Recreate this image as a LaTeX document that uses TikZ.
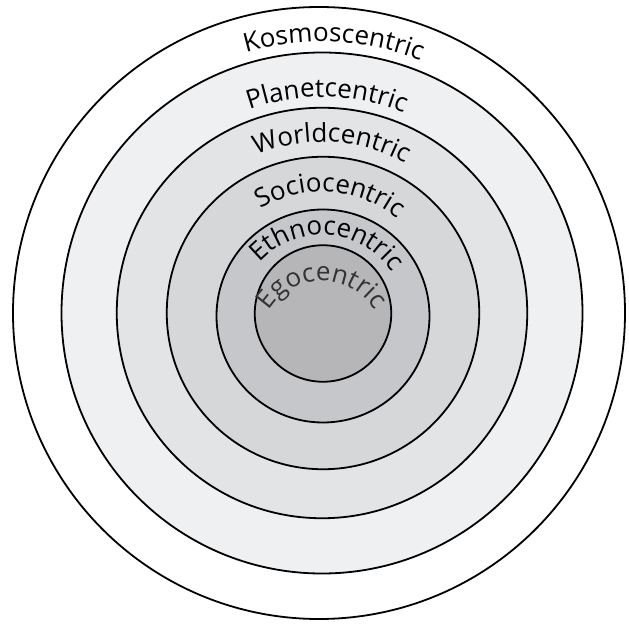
\documentclass[tikz,border=0pt]{standalone}
\usepackage{fontspec}
\newfontfamily\labelfont{Open Sans}
\usetikzlibrary{decorations.text}
\definecolor{ringplanet}{HTML}{EFF0F2}
\definecolor{ringworld}{HTML}{E3E4E6}
\definecolor{ringsocio}{HTML}{D6D7D9}
\definecolor{ringethno}{HTML}{C6C7CA}
\definecolor{ringego}{HTML}{B6B6B9}
\definecolor{egotext}{HTML}{333333}
\def\lblfont{\labelfont\fontsize{26}{31}\selectfont}
\tikzset{
  ring/.style={circle, draw=black, line width=1.8pt, inner sep=0pt, outer sep=0pt},
  labelarc/.style={decorate, decoration={text along path, text align=center, text color=#1}},
  labelarc/.default=black
}
\begin{document}
\begin{tikzpicture}[x=1pt,y=1pt]
\useasboundingbox (0,0) rectangle (629,627);
\fill[white] (0,0) rectangle (629,627);
\coordinate (C) at (322,314);
\node[ring, fill=white, minimum size=612pt] (kosmos) at (319,314) {};
\node[ring, fill=ringplanet, minimum size=521pt] (planet) at (322,314) {};
\node[ring, fill=ringworld, minimum size=410.5pt] (world) at (322,314) {};
\node[ring, fill=ringsocio, minimum size=312.5pt] (socio) at (323,314) {};
\node[ring, fill=ringethno, minimum size=213pt] (ethno) at (323,311) {};
\node[ring, fill=ringego, minimum size=136.5pt] (ego) at (323,313.5) {};
\coordinate (Cethno) at (322,307);
\coordinate (Cego) at (322,284);
\path[labelarc, decoration={text={|\lblfont|Kosmoscentric}}]
  ([shift={(150:271)}]C) arc[start angle=150, end angle=25, radius=271];
\path[labelarc, decoration={text={|\lblfont|Planetcentric}}]
  ([shift={(150:216)}]C) arc[start angle=150, end angle=27.4, radius=216];
\path[labelarc, decoration={text={|\lblfont|Worldcentric}}]
  ([shift={(160:171)}]C) arc[start angle=160, end angle=13.4, radius=171];
\path[labelarc, decoration={text={|\lblfont|Sociocentric}}]
  ([shift={(170:121)}]C) arc[start angle=170, end angle=2, radius=121];
\path[labelarc, decoration={text={|\lblfont|Ethnocentric}}]
  ([shift={(174:85)}]Cethno) arc[start angle=174, end angle=-2, radius=85];
\path[labelarc=egotext, decoration={text={|\lblfont|Egocentric}}]
  ([shift={(180:62)}]Cego) arc[start angle=180, end angle=0, radius=62];
\end{tikzpicture}
\end{document}
